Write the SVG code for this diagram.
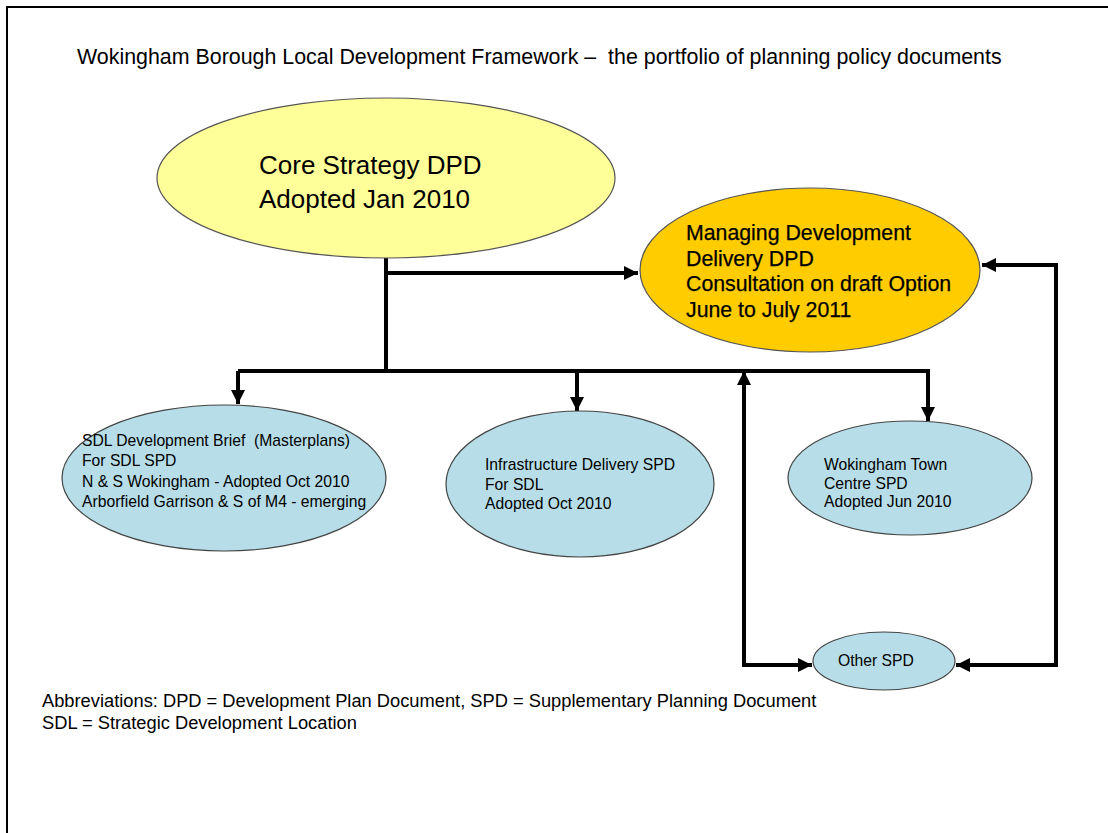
<svg xmlns="http://www.w3.org/2000/svg" width="1108" height="833" viewBox="0 0 1108 833">
  <style>
    text { font-family: "Liberation Sans", Arial, sans-serif; fill: #000; white-space: pre; }
    .title { font-size: 21.4px; }
    .core { font-size: 26px; }
    .mdd { font-size: 21.3px; stroke: #000; stroke-width: 0.25; }
    .spd { font-size: 15.7px; }
    .note { font-size: 18.3px; }
    .yellow { fill: #FFFF99; stroke: #555; stroke-width: 1.2; }
    .orange { fill: #FFCC00; stroke: #555; stroke-width: 1.2; }
    .blue { fill: #B7DEE8; stroke: #444; stroke-width: 1.2; }
    .conn { fill: none; stroke: #000; stroke-width: 4; stroke-linejoin: miter; }
  </style>
  <defs>
    <marker id="arrow" viewBox="0 0 10 10" refX="10" refY="5" markerWidth="3.6" markerHeight="3.6" orient="auto" markerUnits="strokeWidth">
      <path d="M0,0 L10,5 L0,10 z" fill="#000"/>
    </marker>
  </defs>

  <!-- page frame (top and left edges) -->
  <rect x="0" y="0" width="1108" height="833" fill="#fff"/>
  <path d="M7,833 V7 H1108" fill="none" stroke="#000" stroke-width="2"/>

  <text class="title" x="77" y="64" xml:space="preserve">Wokingham Borough Local Development Framework –  the portfolio of planning policy documents</text>

  <!-- connectors -->
  <g id="connectors" class="conn">
    <path d="M386,258 V371"/>
    <path d="M386,273 H638" marker-end="url(#arrow)"/>
    <path d="M238,371 H928"/>
    <path d="M238,371 V404" marker-end="url(#arrow)"/>
    <path d="M577,371 V411" marker-end="url(#arrow)"/>
    <path d="M928,369 V421" marker-end="url(#arrow)"/>
    <path d="M744,665 V371" marker-end="url(#arrow)"/>
    <path d="M742,665 H812" marker-end="url(#arrow)"/>
    <path d="M1056,665 V265 H982" marker-end="url(#arrow)"/>
    <path d="M1058,665 H956" marker-end="url(#arrow)"/>
  </g>

  <g id="core-strategy">
    <ellipse class="yellow" cx="386" cy="178" rx="229" ry="80"/>
    <text class="core" x="259" y="174">Core Strategy DPD</text>
    <text class="core" x="259" y="208">Adopted Jan 2010</text>
  </g>

  <g id="managing-development">
    <ellipse class="orange" cx="810" cy="270" rx="170" ry="82"/>
    <text class="mdd" x="686" y="240">Managing Development</text>
    <text class="mdd" x="686" y="266">Delivery DPD</text>
    <text class="mdd" x="686" y="291">Consultation on draft Option</text>
    <text class="mdd" x="686" y="317">June to July 2011</text>
  </g>

  <g id="sdl-brief">
    <ellipse class="blue" cx="224" cy="478" rx="162" ry="73"/>
    <text class="spd" x="82" y="446" xml:space="preserve">SDL Development Brief  (Masterplans)</text>
    <text class="spd" x="82" y="466">For SDL SPD</text>
    <text class="spd" x="82" y="487">N &amp; S Wokingham - Adopted Oct 2010</text>
    <text class="spd" x="82" y="507">Arborfield Garrison &amp; S of M4 - emerging</text>
  </g>

  <g id="infrastructure-delivery">
    <ellipse class="blue" cx="580" cy="484" rx="134" ry="73"/>
    <text class="spd" x="485" y="470">Infrastructure Delivery SPD</text>
    <text class="spd" x="485" y="490">For SDL</text>
    <text class="spd" x="485" y="509">Adopted Oct 2010</text>
  </g>

  <g id="town-centre">
    <ellipse class="blue" cx="910" cy="478" rx="122" ry="57"/>
    <text class="spd" x="824" y="470">Wokingham Town</text>
    <text class="spd" x="824" y="489">Centre SPD</text>
    <text class="spd" x="824" y="507">Adopted Jun 2010</text>
  </g>

  <g id="other-spd">
    <ellipse class="blue" cx="884" cy="661" rx="71" ry="29"/>
    <text class="spd" x="838" y="666">Other SPD</text>
  </g>

  <text class="note" x="42" y="707">Abbreviations: DPD = Development Plan Document, SPD = Supplementary Planning Document</text>
  <text class="note" x="42" y="729">SDL = Strategic Development Location</text>
</svg>
